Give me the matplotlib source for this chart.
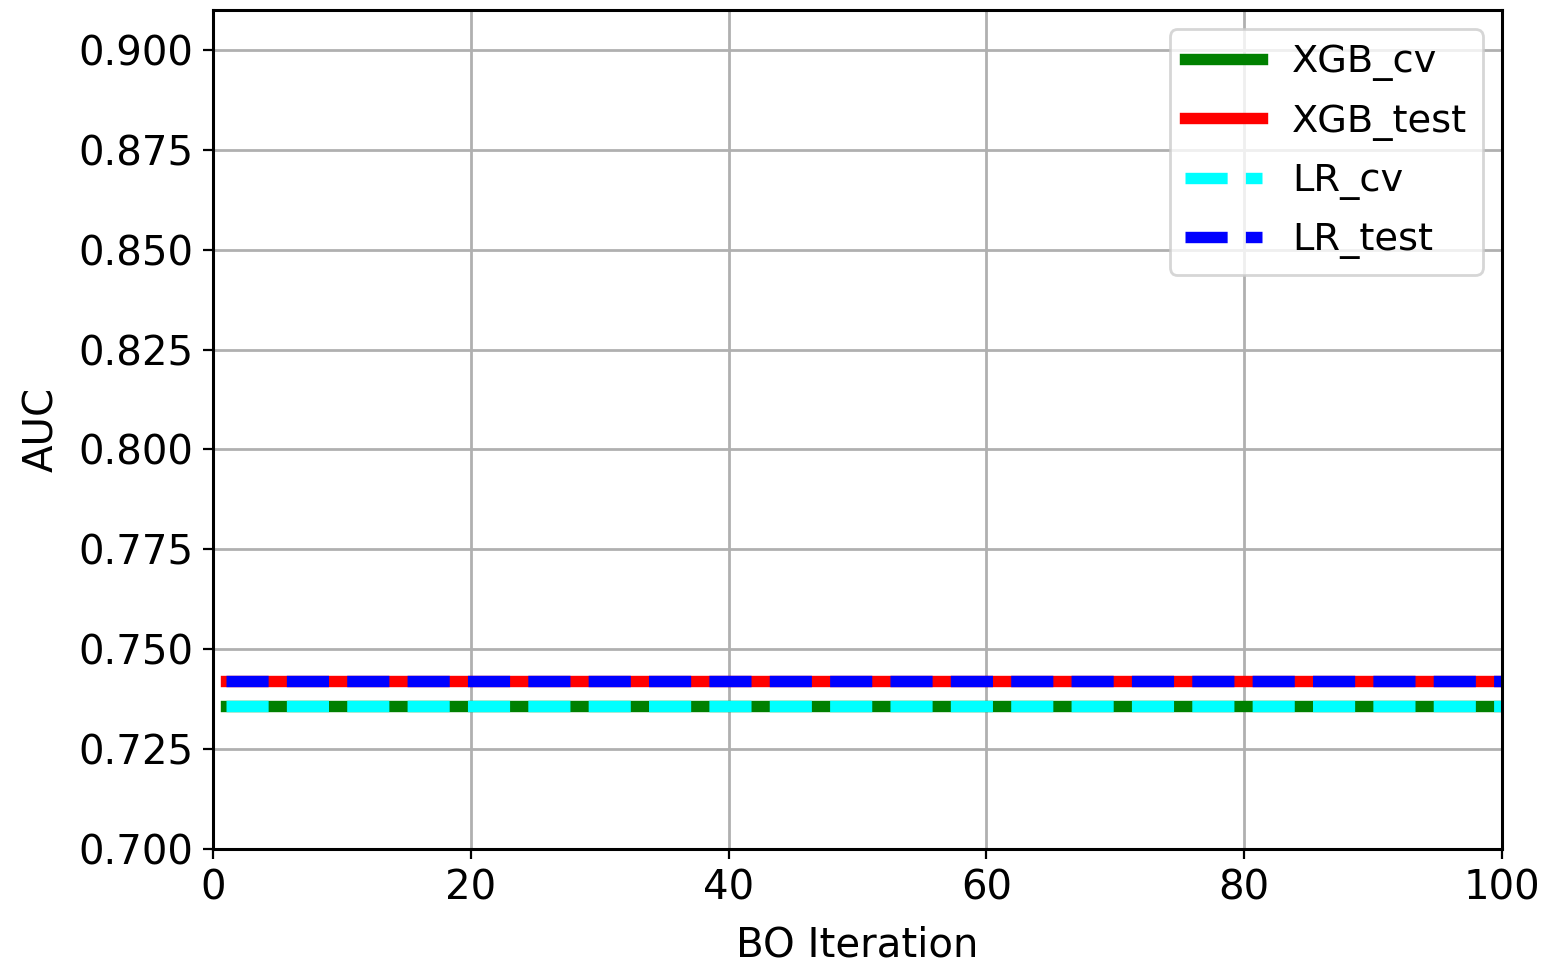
import numpy as np
import matplotlib
matplotlib.use("Agg")
import matplotlib.pyplot as plt

iterations = list(range(1, 101))
xgb_cv_value = 0.7357
xgb_test_value = 0.7420
lr_cv_value = 0.7357
lr_test_value = 0.7420

xgb_cv = np.full(len(iterations), xgb_cv_value)
xgb_test = np.full(len(iterations), xgb_test_value)
lr_cv = np.full(len(iterations), lr_cv_value)
lr_test = np.full(len(iterations), lr_test_value)

plt.rcParams['font.family'] = ['DejaVu Sans']
plt.rcParams['font.size'] = 14.5

fig = plt.figure(figsize=(7.73, 4.84), dpi=200)
ax = fig.add_axes([0.1378, 0.1229, 0.9715 - 0.1378, 0.9897 - 0.1229])

lw = 4.1
ax.plot(iterations, xgb_cv, color='green', lw=lw, label='XGB_cv')
ax.plot(iterations, xgb_test, color='red', lw=lw, label='XGB_test')
ax.plot(iterations, lr_cv, color='cyan', lw=lw, ls='--', label='LR_cv')
ax.plot(iterations, lr_test, color='blue', lw=lw, ls='--', label='LR_test')

ax.set_xlim(0, 100)
ax.set_ylim(0.7, 0.91)
ax.set_yticks(np.arange(0.7, 0.9001, 0.025))
ax.set_xticks([0, 20, 40, 60, 80, 100])
ax.grid(True, color='#b0b0b0', lw=1.0)
ax.set_axisbelow(True)
for s in ax.spines.values():
    s.set_linewidth(1.1)
ax.set_xlabel('BO Iteration', labelpad=6)
ax.set_ylabel('AUC', labelpad=6)
ax.legend(loc='upper right', fontsize=13.8, borderaxespad=0.5, labelspacing=0.58)

fig.savefig('out.png', dpi=200)
